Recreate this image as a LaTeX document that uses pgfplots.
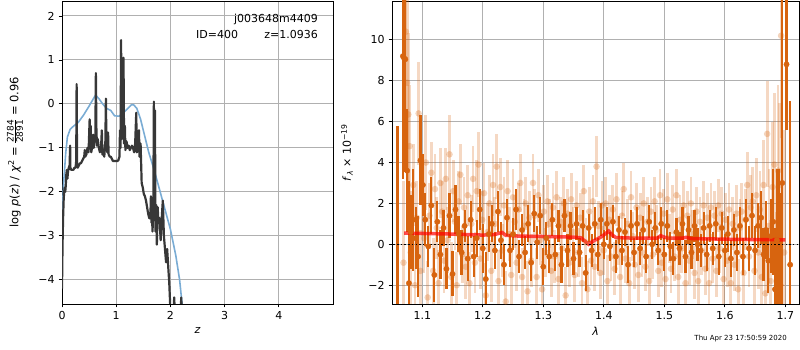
\documentclass[border=0pt]{standalone}
\usepackage{amsmath}
\usepackage{fontspec}
\setmainfont{DejaVu Sans}
\usepackage{pgfplots}
\pgfplotsset{compat=1.18}
\usepackage{pgfplotstable}
\definecolor{dorange}{RGB}{215,100,15}
\definecolor{gridgray}{RGB}{176,176,176}
\definecolor{pzblue}{RGB}{122,172,212}
\definecolor{pzdark}{RGB}{55,55,55}

\pgfplotstableread{
x y
0.000 -4.2
0.010 -3.2
0.020 -2.6
0.030 -2.2
0.040 -2.0
0.050 -1.9
0.060 -2.0
0.070 -1.85
0.080 -1.6
0.090 -1.5
0.100 -1.7
0.110 -1.55
0.125 -1.45
0.140 -1.4
0.150 -0.95
0.155 -1.45
0.170 -1.5
0.190 -1.5
0.210 -1.5
0.230 -1.45
0.250 -1.45
0.262 -1.3
0.270 0.45
0.278 -1.4
0.290 -1.45
0.310 -1.4
0.330 -1.35
0.350 -1.35
0.370 -1.3
0.390 -1.25
0.410 -1.2
0.420 -1.05
0.430 -1.2
0.450 -1.15
0.470 -1.0
0.490 -1.1
0.510 -0.35
0.520 -1.0
0.530 -0.5
0.540 -1.1
0.560 -0.95
0.575 -0.7
0.585 -1.0
0.600 -0.85
0.615 -0.75
0.625 0.7
0.635 -0.6
0.645 -0.95
0.660 -0.8
0.680 -1.0
0.700 -1.1
0.720 -1.0
0.735 -0.6
0.745 -1.15
0.760 -1.1
0.780 -1.2
0.800 -0.85
0.810 0.12
0.820 -0.9
0.835 -1.1
0.850 -0.65
0.860 -1.15
0.880 -1.2
0.900 -1.2
0.920 -1.25
0.940 -1.3
0.960 -1.3
0.980 -1.3
1.000 -1.3
1.020 -1.3
1.040 -1.28
1.060 -1.2
1.070 -0.6
1.080 -1.0
1.090 1.45
1.100 -0.8
1.110 0.85
1.120 -0.7
1.135 1.05
1.145 -0.9
1.160 -0.5
1.170 -1.05
1.190 -0.85
1.210 -1.0
1.230 -0.95
1.250 -1.05
1.270 -1.0
1.290 -0.95
1.310 -1.0
1.330 -1.1
1.350 -0.9
1.370 -0.2
1.380 -1.1
1.400 -1.05
1.420 -0.6
1.430 -1.2
1.450 -0.9
1.470 -1.8
1.490 -1.9
1.510 -2.05
1.530 -2.1
1.550 -2.2
1.570 -2.35
1.590 -2.5
1.610 -2.6
1.630 -2.6
1.640 -2.1
1.650 -2.7
1.660 -2.5
1.670 -2.9
1.685 -2.4
1.695 0.05
1.705 -2.5
1.715 -0.15
1.725 -2.9
1.740 -2.3
1.750 -3.2
1.765 -2.35
1.780 -2.7
1.800 -2.6
1.820 -3.1
1.840 -2.6
1.860 -2.2
1.880 -3.0
1.900 -3.3
1.920 -3.6
1.940 -3.3
1.960 -3.7
1.980 -4.1
2.000 -4.7
2.060 -4.7
2.070 -4.4
2.080 -4.7
2.190 -4.7
2.200 -4.4
2.210 -4.7
}\pzdata

\pgfplotstableread{
x y
0.000 -2.6
0.030 -1.8
0.070 -1.1
0.100 -0.75
0.150 -0.58
0.200 -0.52
0.300 -0.42
0.400 -0.25
0.500 -0.05
0.580 0.12
0.620 0.2
0.680 0.12
0.750 0.0
0.820 -0.1
0.900 -0.15
0.970 -0.27
1.050 -0.28
1.120 -0.22
1.200 -0.12
1.280 -0.02
1.320 -0.02
1.380 -0.1
1.450 -0.35
1.520 -0.7
1.600 -1.1
1.700 -1.5
1.800 -1.95
1.900 -2.4
2.000 -2.85
2.100 -3.45
2.170 -4.0
2.220 -4.6
}\pzsmooth

\pgfplotstableread{
x y e
1.059 -4 9.8
1.068 9.2 6
1.070 9.1 5
1.072 9.05 5.5
1.075 3.6 3.0
1.078 -1.9 5
1.081 0.6 1.8
1.085 1.2 2.5
1.089 0.3 1.5
1.093 -0.6 2.0
1.097 4.1 2.2
1.101 2.9 1.5
1.105 1.2 1.3
1.110 -0.1 1.0
1.115 1.9 1.4
1.120 -1.5 1.3
1.125 1.1 1.0
1.130 -0.5 1.2
1.135 0.8 0.9
1.140 -1.2 1.0
1.145 1.4 1.1
1.150 -1.45 1.1
1.155 1.7 1.2
1.160 0.5 0.9
1.165 -0.4 1.1
1.170 0.9 0.8
1.175 -0.7 1.1
1.180 1.2 0.9
1.185 -0.6 1.0
1.190 0.3 0.9
1.195 1.7 1.0
1.200 -0.2 1.2
1.205 -1.7 1.3
1.210 0.5 0.9
1.215 1.0 0.9
1.220 -0.3 0.9
1.225 1.6 1.0
1.230 0.2 0.9
1.235 -1.0 1.0
1.240 1.3 0.9
1.245 -0.3 0.8
1.250 0.5 0.8
1.255 1.7 1.0
1.260 -0.6 0.8
1.265 0.7 0.8
1.270 -0.4 0.8
1.275 1.0 0.9
1.280 -0.9 0.9
1.285 1.5 0.9
1.290 0.1 0.8
1.295 1.4 0.9
1.300 -1.1 0.9
1.305 0.3 0.8
1.310 -0.6 0.8
1.315 1.2 0.8
1.320 -0.5 0.8
1.325 0.9 0.8
1.330 -1.0 0.9
1.335 1.4 0.8
1.340 -0.3 0.8
1.345 0.9 0.7
1.350 -0.7 0.8
1.355 1.0 0.8
1.360 -0.4 0.7
1.365 0.9 0.8
1.370 -1.4 0.9
1.375 0.8 0.7
1.380 -0.3 0.8
1.385 1.0 0.8
1.390 -0.5 0.8
1.395 1.2 0.8
1.400 0.0 0.7
1.405 1.0 0.8
1.410 -0.1 0.7
1.415 1.1 0.8
1.420 -0.6 0.8
1.425 0.7 0.7
1.430 -0.3 0.7
1.435 0.6 0.7
1.440 -1.0 0.9
1.445 0.9 0.8
1.450 -0.4 0.7
1.455 1.0 0.8
1.460 -0.2 0.8
1.465 0.7 0.7
1.470 -0.6 0.8
1.475 1.1 0.8
1.480 0.0 0.7
1.485 0.8 0.8
1.490 -0.3 0.7
1.495 1.0 0.8
1.500 -0.5 0.8
1.505 0.9 0.8
1.510 -0.1 0.7
1.515 -0.7 0.8
1.520 0.6 0.7
1.525 -0.2 0.8
1.530 1.0 0.8
1.535 -0.6 0.8
1.540 0.7 0.7
1.545 -0.4 0.8
1.550 0.9 0.8
1.555 0.0 0.8
1.560 -0.3 0.8
1.565 0.8 0.8
1.570 -0.5 0.8
1.575 0.9 0.8
1.580 -0.2 0.8
1.585 1.0 0.8
1.590 -0.6 0.9
1.595 0.8 0.8
1.600 -0.3 0.8
1.605 0.5 0.9
1.610 -0.7 0.9
1.615 0.7 0.8
1.620 -0.4 0.9
1.625 0.9 0.9
1.630 -0.6 0.9
1.635 1.2 1.0
1.640 -0.2 1.1
1.645 1.4 1.1
1.650 -0.3 1.2
1.655 0.9 1.1
1.660 1.3 1.3
1.664 -0.5 1.3
1.668 0.7 1.4
1.672 -0.8 1.6
1.676 0.4 1.8
1.680 1.1 2.6
1.683 -2.2 3.0
1.686 0.2 3.5
1.689 -0.3 4.0
1.692 -2.0 4.5
1.695 3.0 12
1.702 8.8 3.2
1.708 -1.0 8.0
}\darkpts

\pgfplotstableread{
x y e
1.069 -0.9 4
1.073 10.4 6
1.075 7.9 5
1.077 6.35 4
1.079 4.8 3
1.081 -0.4 3
1.085 2.9 2.0
1.088 -2.0 2.2
1.091 1.3 1.8
1.094 6.4 2.5
1.097 -1.3 2.0
1.100 2.2 1.8
1.103 0.3 1.7
1.106 4.0 2.3
1.109 -2.6 1.8
1.112 1.4 1.6
1.115 3.5 1.5
1.118 -1.3 1.6
1.121 2.7 1.7
1.124 0.8 1.5
1.127 -1.9 1.6
1.130 3.0 1.7
1.133 1.6 1.5
1.136 -0.8 1.6
1.139 3.2 1.5
1.142 0.2 1.6
1.145 4.4 1.9
1.148 -1.6 1.7
1.151 2.6 1.5
1.154 1.1 1.4
1.157 -2.0 1.6
1.160 2.1 1.5
1.163 3.4 1.5
1.166 -0.5 1.4
1.169 1.8 1.5
1.172 -1.1 1.6
1.175 2.4 1.5
1.178 -1.9 1.5
1.181 1.0 1.4
1.184 3.2 1.6
1.187 -0.9 1.5
1.190 2.6 1.5
1.193 3.9 1.6
1.196 -0.7 1.5
1.199 1.2 1.4
1.202 2.5 1.5
1.205 -2.5 1.6
1.208 0.6 1.4
1.211 2.0 1.4
1.214 -1.3 1.5
1.217 2.9 1.5
1.220 1.0 1.3
1.223 3.8 1.6
1.226 -1.8 1.5
1.229 2.8 1.4
1.232 -0.3 1.3
1.235 1.9 1.4
1.238 -2.8 1.5
1.241 2.6 1.5
1.244 0.5 1.3
1.247 -1.5 1.4
1.250 2.3 1.4
1.253 1.1 1.3
1.256 -0.9 1.4
1.259 1.7 1.3
1.262 3.0 1.4
1.265 -1.6 1.4
1.268 0.9 1.3
1.271 2.0 1.3
1.274 -2.3 1.5
1.277 1.3 1.3
1.280 -0.8 1.3
1.283 3.0 1.4
1.286 1.4 1.3
1.289 -1.6 1.4
1.292 2.4 1.3
1.295 0.2 1.2
1.298 -2.2 1.4
1.301 1.6 1.3
1.304 -0.4 1.2
1.307 2.1 1.3
1.310 1.0 1.2
1.313 -1.3 1.3
1.316 1.8 1.2
1.319 -0.6 1.3
1.322 2.3 1.3
1.325 -1.7 1.3
1.328 1.1 1.2
1.331 -0.2 1.2
1.334 2.0 1.3
1.337 -2.5 1.4
1.340 1.5 1.2
1.343 -0.9 1.2
1.346 2.2 1.3
1.349 0.6 1.2
1.352 -1.5 1.3
1.355 1.9 1.2
1.358 -0.4 1.2
1.361 1.3 1.2
1.364 -1.9 1.3
1.367 2.6 1.3
1.370 0.1 1.2
1.373 -2.2 1.4
1.376 1.6 1.2
1.379 -0.8 1.2
1.382 2.1 1.3
1.385 -1.1 1.2
1.388 3.8 1.5
1.391 0.9 1.2
1.394 -1.4 1.3
1.397 1.9 1.2
1.400 -0.3 1.2
1.403 2.0 1.3
1.406 -1.8 1.3
1.409 1.2 1.2
1.412 -0.6 1.2
1.415 1.7 1.2
1.418 -1.2 1.3
1.421 2.2 1.3
1.424 0.2 1.2
1.427 -1.6 1.3
1.430 1.4 1.2
1.433 2.7 1.3
1.436 -0.7 1.2
1.439 1.0 1.2
1.442 -1.9 1.3
1.445 2.3 1.3
1.448 0.4 1.2
1.451 -1.0 1.2
1.454 1.8 1.2
1.457 -1.5 1.3
1.460 1.3 1.2
1.463 -0.4 1.2
1.466 2.0 1.3
1.469 -1.1 1.2
1.472 1.1 1.2
1.475 -1.8 1.3
1.478 1.6 1.2
1.481 -0.5 1.2
1.484 2.1 1.2
1.487 0.7 1.2
1.490 -1.3 1.3
1.493 2.4 1.3
1.496 -0.9 1.2
1.499 1.5 1.2
1.502 -1.7 1.3
1.505 2.2 1.3
1.508 0.3 1.2
1.511 -1.2 1.2
1.514 1.7 1.2
1.517 -0.6 1.2
1.520 2.4 1.3
1.523 -1.6 1.3
1.526 1.2 1.2
1.529 -0.2 1.2
1.532 1.9 1.2
1.535 -1.9 1.3
1.538 1.4 1.2
1.541 -0.8 1.2
1.544 2.0 1.3
1.547 0.5 1.2
1.550 -1.4 1.3
1.553 1.6 1.2
1.556 -1.8 1.3
1.559 1.1 1.2
1.562 -0.3 1.2
1.565 1.9 1.2
1.568 -1.2 1.3
1.571 1.3 1.2
1.574 -1.9 1.3
1.577 1.8 1.2
1.580 -0.7 1.2
1.583 1.4 1.2
1.586 -1.3 1.3
1.589 1.9 1.3
1.592 -0.2 1.2
1.595 1.5 1.3
1.598 -1.7 1.4
1.601 1.2 1.3
1.604 -0.8 1.3
1.607 1.7 1.3
1.610 -1.9 1.4
1.613 1.0 1.3
1.616 -1.0 1.3
1.619 1.5 1.4
1.622 -2.2 1.5
1.625 0.8 1.4
1.628 1.6 1.4
1.631 -1.4 1.5
1.634 1.2 1.5
1.637 2.9 1.6
1.640 -0.6 1.5
1.643 1.8 1.6
1.646 2.1 1.7
1.649 -1.3 1.7
1.652 2.4 1.8
1.655 -0.4 1.8
1.658 1.7 1.9
1.661 -1.6 2.0
1.664 2.9 2.2
1.667 -2.4 2.3
1.670 5.4 2.6
1.673 0.9 2.8
1.676 -1.8 3.0
1.679 2.8 3.2
1.682 3.9 3.5
1.685 -2.2 3.8
1.688 3.6 4.2
1.690 2.9 4.0
1.693 10.2 5
1.698 -0.4 6
}\lightpts

\pgfplotstableread{
x y
1.070 0.55
1.100 0.53
1.150 0.5
1.200 0.45
1.220 0.48
1.232 0.58
1.238 0.44
1.260 0.4
1.300 0.38
1.350 0.35
1.362 0.32
1.369 0.15
1.375 0.0
1.382 0.15
1.395 0.35
1.402 0.5
1.408 0.65
1.414 0.45
1.420 0.33
1.450 0.3
1.488 0.3
1.494 0.42
1.500 0.35
1.506 0.3
1.530 0.3
1.536 0.34
1.545 0.28
1.600 0.25
1.650 0.23
1.700 0.22
}\model

\begin{document}
\fontsize{11}{13}\selectfont
\begin{tikzpicture}
\path[use as bounding box] (0pt,0pt) rectangle (800pt,350pt);
\pgfplotsset{
  every axis/.append style={
    scale only axis,
    axis line style={black, line width=0.9pt},
    grid=major,
    major grid style={gridgray, line width=0.9pt},
    tick align=outside,
    xtick pos=bottom, ytick pos=left,
    major tick length=3.5pt,
    tick style={black, line width=0.8pt},
    tick label style={font=\fontsize{11}{13}\selectfont},
    label style={font=\fontsize{11}{13}\selectfont},
  },
}
\begin{axis}[
  at={(62pt,46pt)}, anchor=south west,
  width=271pt, height=303pt,
  xmin=0, xmax=5.0, ymin=-4.55, ymax=2.34,
  xtick={0,1,2,3,4}, xticklabels={0,1,2,3,4},
  ytick={-4,-3,-2,-1,0,1,2},
  yticklabels={−4,−3,−2,−1,0,1,2},
  xlabel={\textit{z}},
  ylabel={log \textit{p}(\textit{z}) / \textit{χ}\textsuperscript{2}\;=\;$\frac{\text{\fontsize{9}{9}\selectfont 2784}}{\text{\fontsize{9}{9}\selectfont 2891}}$\;=\;0.96},
  ylabel style={yshift=8pt, font=\fontsize{11.5}{13}\selectfont},
]
\addplot[pzblue, line width=1.6pt] table[x=x,y=y] {\pzsmooth};
\addplot[pzdark, line width=2.2pt, line join=round] table[x=x,y=y] {\pzdata};
\node[anchor=east, inner sep=0pt] at (rel axis cs:0.945,0.94) {j003648m4409};
\node[anchor=east, inner sep=0pt] at (rel axis cs:0.945,0.89) {ID=400\hspace{2.4em}z=1.0936};
\end{axis}

\begin{axis}[
  at={(392pt,46pt)}, anchor=south west,
  width=407pt, height=303pt,
  xmin=1.05, xmax=1.7226, ymin=-2.92, ymax=11.9,
  xtick={1.1,1.2,1.3,1.4,1.5,1.6,1.7},
  xticklabels={1.1,1.2,1.3,1.4,1.5,1.6,1.7},
  ytick={-2,0,2,4,6,8,10},
  yticklabels={−2,0,2,4,6,8,10},
  xlabel={\textit{λ}},
  ylabel={\textit{f}\textsubscript{\textit{λ}} × 10\textsuperscript{−19}},
  ylabel style={yshift=8pt},
]
\addplot[dorange, only marks, mark=*, mark size=3.3pt,
  mark options={draw opacity=0, fill opacity=0.28},
  error bars/.cd, y dir=both, y explicit, error mark=none,
  error bar style={line width=2.8pt, opacity=0.25}]
  table[x=x,y=y,y error=e] {\lightpts};
\addplot[dorange, only marks, mark=*, mark size=2.7pt,
  error bars/.cd, y dir=both, y explicit, error mark=none,
  error bar style={line width=2.2pt}]
  table[x=x,y=y,y error=e] {\darkpts};
\addplot[red, line width=3.5pt, opacity=0.7] table[x=x,y=y] {\model};
\addplot[black, line width=1.5pt, dash pattern=on 1.5pt off 2.2pt] coordinates {(1.04,0) (1.73,0)};
\end{axis}
\node[anchor=east, inner sep=0pt, font=\fontsize{7}{8}\selectfont] at (787pt,11pt) {Thu Apr 23 17:50:59 2020};
\end{tikzpicture}
\end{document}
